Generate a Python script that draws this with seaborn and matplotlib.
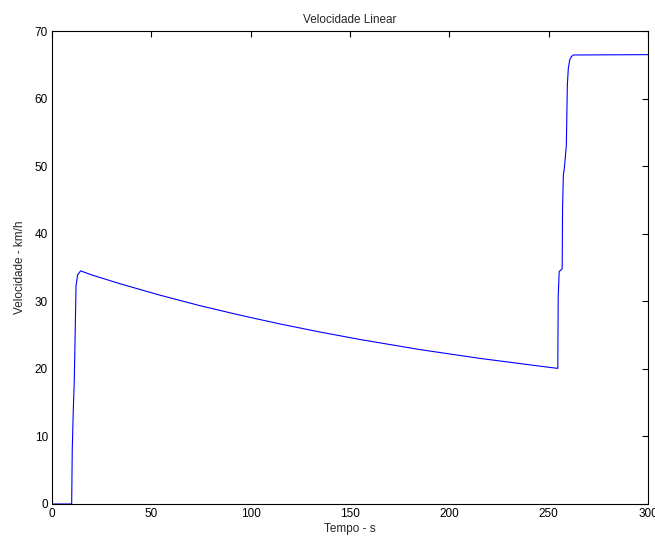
import matplotlib
matplotlib.use("Agg")
import matplotlib.pyplot as plt
import seaborn as sns
import pandas as pd

tempo = [0, 9.9, 10.2, 10.7, 11.2, 11.6, 12.1, 12.9, 14.4, 20, 34.2, 54.4, 74.5, 94.6, 114.7,
         134.9, 155, 185.2, 215.4, 245.6, 254.6, 254.8, 255.3, 256.8, 257.0, 257.4, 257.9, 258.9,
         259.4, 259.9, 260.6, 261.4, 262.4, 300]
velocidade = [0, 0, 8.1, 13.7, 18.1, 24.3, 32.3, 33.9, 34.5, 33.9, 32.6, 30.9, 29.35, 27.95, 26.65,
              25.45, 24.35, 22.85, 21.55, 20.4, 20.07, 30.7, 34.4, 34.8, 44.0, 48.7, 49.7, 53.1, 62.0,
              64.5, 65.7, 66.2, 66.45, 66.5]

titulo = "Velocidade Linear"
xlabel = "Tempo - s"
ylabel = "Velocidade - km/h"

sns.set_style("white")
plt.rcParams['font.family'] = ['Liberation Sans', 'DejaVu Sans']

df = pd.DataFrame({"t": tempo, "v": velocidade})

fig = plt.figure(figsize=(6.55, 5.4), dpi=100)
ax = fig.add_axes([52/655, 36/540, 596/655, 473/540])
sns.lineplot(data=df, x="t", y="v", ax=ax, color=(0, 0, 1), linewidth=0.8, estimator=None, sort=False)

ax.set_xlim(0, 300)
ax.set_ylim(0, 70)
ax.set_xticks(range(0, 301, 50))
ax.set_yticks(range(0, 71, 10))
ax.tick_params(direction="in", length=4, width=0.8, top=True, right=True, labelsize=8.5, colors="black", pad=3)
for s in ax.spines.values():
    s.set_visible(True)
    s.set_color("black")
    s.set_linewidth(0.8)
ax.set_title(titulo, fontsize=8.5, pad=6)
ax.set_xlabel(xlabel, fontsize=8.5, labelpad=2)
ax.set_ylabel(ylabel, fontsize=8.5, labelpad=6)
fig.savefig("out.png", dpi=100)
